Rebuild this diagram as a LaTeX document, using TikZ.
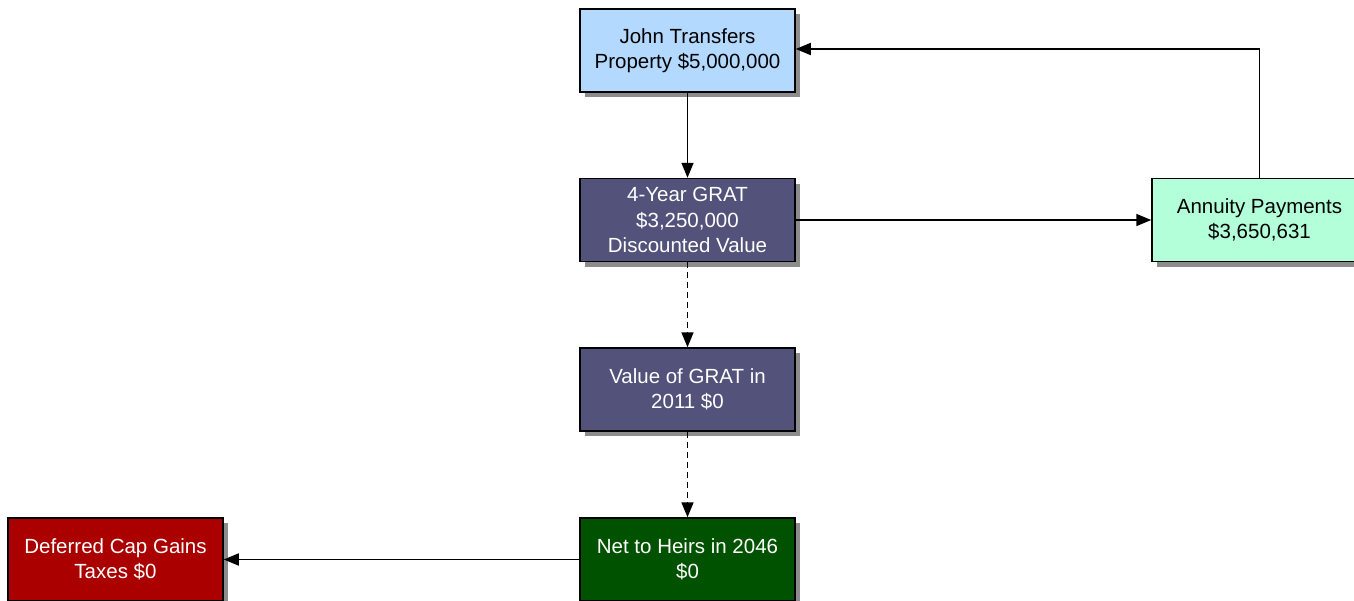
\documentclass[tikz,border=0pt]{standalone}
\usepackage{fontspec}
\setmainfont{Liberation Sans}
\usetikzlibrary{arrows.meta,positioning,shadows}
\definecolor{johnblue}{RGB}{179,217,255}
\definecolor{gratpurple}{RGB}{82,82,122}
\definecolor{heirgreen}{RGB}{0,82,0}
\definecolor{taxred}{RGB}{170,0,0}
\definecolor{annuitygreen}{RGB}{179,255,217}
\tikzstyle{flow box}=[draw,line width=1.5pt,minimum width=215pt,minimum height=83pt,align=center,inner sep=2pt,
  font=\fontsize{20.5}{25.5}\selectfont,
  drop shadow={shadow xshift=5pt,shadow yshift=-5pt,fill=gray!90,opacity=1}]
\tikzstyle{flow arrow}=[line width=1.6pt,-{Triangle[length=15pt,width=12pt]}]

\begin{document}
\begin{tikzpicture}[x=1pt,y=-1pt]
		\useasboundingbox (0,0) rectangle (1354,600);

		\node(john)[flow box,fill=johnblue] at (687.5,50.5) {John Transfers\\Property \$5,000,000};
		\node(grat)[flow box,fill=gratpurple,text=white] at (687.5,220) {4-Year GRAT\\\$3,250,000\\Discounted Value};
		\node(value)[flow box,fill=gratpurple,text=white] at (687.5,389.5) {Value of GRAT in\\2011 \$0};
		\node(heirs)[flow box,fill=heirgreen,text=white] at (687.5,559.5) {Net to Heirs in 2046\\\$0};
		\node(taxes)[flow box,fill=taxred,text=white] at (115.5,559.5) {Deferred Cap Gains\\Taxes \$0};
		\node(annuity)[flow box,fill=annuitygreen] at (1259.5,220) {Annuity Payments\\\$3,650,631};

		\draw[flow arrow] (john) -- (grat);
		\draw[flow arrow] (grat) -- (annuity);
		\draw[flow arrow] (annuity.north) |- (john.east |- 0,49);
		\draw[flow arrow,dashed,dash pattern=on 6pt off 4pt] (grat) -- (value);
		\draw[flow arrow,dashed,dash pattern=on 6pt off 4pt] (value) -- (heirs);
		\draw[flow arrow] (heirs) -- (taxes);

\end{tikzpicture}
\end{document}
